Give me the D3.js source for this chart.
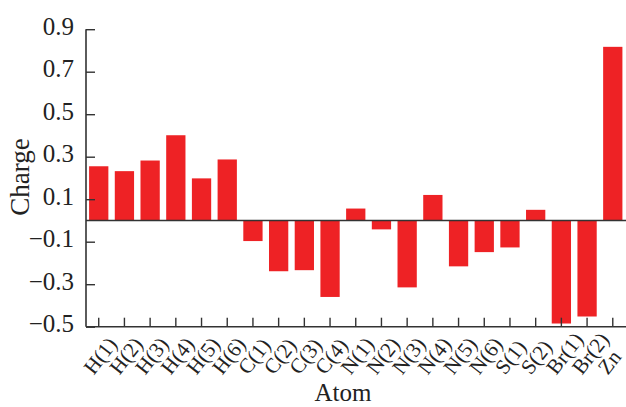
<!DOCTYPE html>
<html>
<head>
<meta charset="utf-8">
<script src="https://cdn.jsdelivr.net/npm/d3@7"></script>
<style>
  body { margin: 0; background: #fff; }
  svg { display: block; font-family: "Liberation Serif", "DejaVu Serif", serif; }
  svg text { font-family: "Liberation Serif", "DejaVu Serif", serif; }
</style>
</head>
<body>
<div class="chart"></div>
<script>
// atoms along the x axis
var atoms = ["H(1)", "H(2)", "H(3)", "H(4)", "H(5)", "H(6)",
  "C(1)", "C(2)", "C(3)", "C(4)",
  "N(1)", "N(2)", "N(3)", "N(4)", "N(5)", "N(6)",
  "S(1)", "S(2)", "Br(1)", "Br(2)", "Zn"];

// charge
var charges = [0.255, 0.232, 0.282, 0.401, 0.198, 0.287,
  -0.097, -0.239, -0.234, -0.36,
  0.056, -0.042, -0.315, 0.12, -0.216, -0.149,
  -0.127, 0.05, -0.485, -0.452, 0.817];

var yTicks = [-0.5, -0.3, -0.1, 0.1, 0.3, 0.5, 0.7, 0.9];

var svgWidth = 626;
var svgHeight = 407;

var svg = d3.select(".chart")
  .append("svg")
  .attr("width", svgWidth)
  .attr("height", svgHeight);

var data = atoms.map(function(a, i) {
  return { atom: a, charge: charges[i] };
});

// scales
var xBandScale = d3.scaleBand()
  .domain(atoms)
  .range([86, 625.5])
  .paddingInner(0.25)
  .paddingOuter(0.12);

var yLinearScale = d3.scaleLinear()
  .domain([-0.5, 0.9])
  .range([326.7, 29.2]);

var axisColor = "#333";

// bars
svg.selectAll("rect.bar")
  .data(data)
  .enter()
  .append("rect")
  .attr("class", "bar")
  .attr("x", d => xBandScale(d.atom))
  .attr("width", xBandScale.bandwidth())
  .attr("y", d => yLinearScale(Math.max(0, d.charge)))
  .attr("height", d => Math.abs(yLinearScale(d.charge) - yLinearScale(0)))
  .attr("fill", "#ee2225");

// zero line
svg.append("line")
  .attr("x1", 86)
  .attr("x2", svgWidth)
  .attr("y1", yLinearScale(0))
  .attr("y2", yLinearScale(0))
  .attr("stroke", axisColor)
  .attr("stroke-width", 1.4);

// y axis, ticks point inward
var yAxis = d3.axisLeft(yLinearScale)
  .tickValues(yTicks)
  .tickSize(-9)
  .tickPadding(12)
  .tickFormat(d3.format(".1f"));

var yAxisGroup = svg.append("g")
  .attr("transform", "translate(86, 0)")
  .call(yAxis);

yAxisGroup.select(".domain").remove();
yAxisGroup.append("line")
  .attr("x1", 0).attr("x2", 0)
  .attr("y1", yLinearScale(0.9))
  .attr("y2", yLinearScale(-0.5))
  .attr("stroke", axisColor)
  .attr("stroke-width", 1.6);
yAxisGroup.selectAll(".tick line")
  .attr("stroke", axisColor)
  .attr("stroke-width", 1.4);
yAxisGroup.selectAll(".tick text")
  .attr("font-size", 25)
  .attr("fill", "#222")
  .attr("dy", "0.2em");

// x axis, ticks point upward
var xAxis = d3.axisBottom(xBandScale)
  .tickSize(-9);

var xAxisGroup = svg.append("g")
  .attr("transform", `translate(0, ${yLinearScale(-0.5)})`)
  .call(xAxis);

xAxisGroup.select(".domain").remove();
xAxisGroup.append("line")
  .attr("x1", 86).attr("x2", svgWidth)
  .attr("y1", 0).attr("y2", 0)
  .attr("stroke", axisColor)
  .attr("stroke-width", 1.6);
xAxisGroup.selectAll(".tick line")
  .attr("stroke", axisColor)
  .attr("stroke-width", 1.4);
// labels start below-left of the tick and run up to the right
xAxisGroup.selectAll(".tick text")
  .attr("font-size", 21)
  .attr("fill", "#222")
  .attr("text-anchor", "start")
  .attr("y", 0)
  .attr("dy", 0)
  .attr("transform", "translate(-5, 49) rotate(-52)");

// axis titles
svg.append("text")
  .attr("transform", "rotate(-90)")
  .attr("x", -177)
  .attr("y", 29)
  .attr("text-anchor", "middle")
  .attr("font-size", 27)
  .attr("fill", "#222")
  .text("Charge");

svg.append("text")
  .attr("x", 343)
  .attr("y", 401)
  .attr("text-anchor", "middle")
  .attr("font-size", 25)
  .attr("fill", "#222")
  .text("Atom");
</script>
</body>
</html>
